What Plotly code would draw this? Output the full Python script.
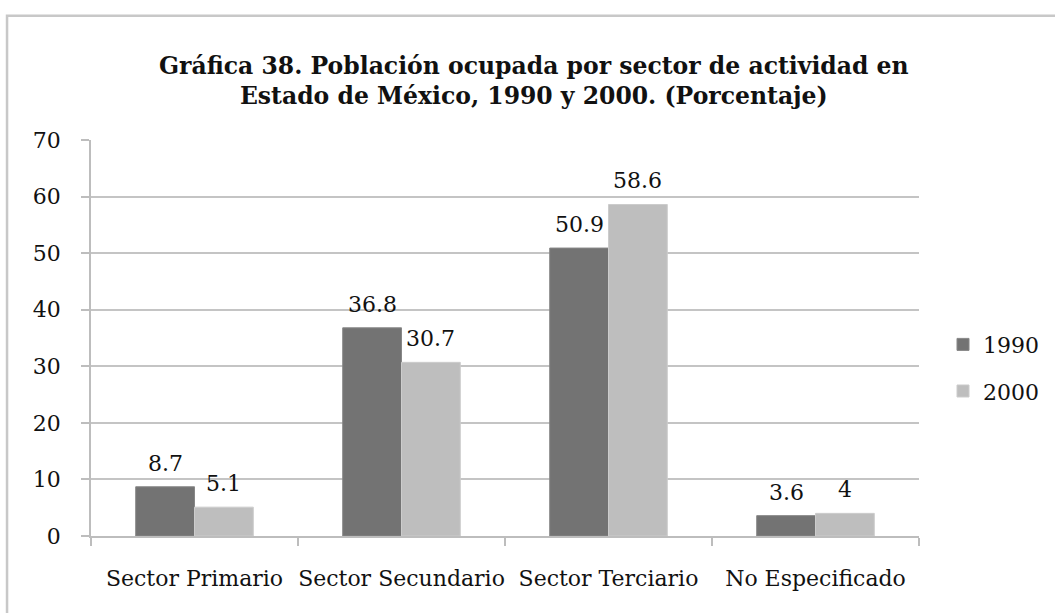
import plotly.graph_objects as go

# Población ocupada por sector de actividad (%)
sectores = ["Sector Primario", "Sector Secundario", "Sector Terciario", "No Especificado"]
anios = ["1990", "2000"]
valores_1990 = [8.7, 36.8, 50.9, 3.6]
valores_2000 = [5.1, 30.7, 58.6, 4]
colores = ["#737373", "#bebebe"]
bordes = ["#878787", "#cccccc"]

FUENTE = "DejaVu Serif"
series = [valores_1990, valores_2000]

fig = go.Figure()
for i, (anio, vals) in enumerate(zip(anios, series)):
    fig.add_trace(go.Bar(
        x=sectores, y=vals, name=anio,
        legendgroup=anio,
        marker=dict(color=colores[i], line=dict(color=bordes[i], width=1)),
        hoverinfo="x+y+name",
    ))

# Etiquetas de valor sobre cada barra
half = 29.4  # distancia en px del centro de la categoría al centro de cada barra
for i, vals in enumerate(series):
    for sec, v in zip(sectores, vals):
        fig.add_annotation(
            x=sec, y=v, text=f"{v:g}", showarrow=False,
            xshift=(-half if i == 0 else half), yshift=9, yanchor="bottom",
            font=dict(family=FUENTE, size=22, color="#111111"),
        )

# Marco exterior del gráfico
fig.add_shape(type="rect", xref="paper", yref="paper",
              x0=-0.1014, x1=1.25, y0=-0.35, y1=1.314,
              line=dict(color="#c8c8c8", width=2.5), fillcolor="rgba(0,0,0,0)",
              layer="below")

fig.update_layout(
    width=1055, height=613,
    margin=dict(l=91, r=136, t=139.5, b=77, autoexpand=False),
    paper_bgcolor="white", plot_bgcolor="white",
    barmode="group", bargap=0.432, bargroupgap=0,
    title=dict(
        text="Gráfica 38. Población ocupada por sector de actividad en<br>Estado de México, 1990 y 2000. (Porcentaje)",
        x=0.506, xref="container", xanchor="center",
        y=0.880, yref="container", yanchor="top",
        font=dict(family=FUENTE, size=23.5, color="#111111", weight="bold"),
        automargin=False,
    ),
    font=dict(family=FUENTE, size=22, color="#111111"),
    showlegend=True,
    legend=dict(
        x=1.029, xanchor="left", y=0.424, yanchor="middle",
        traceorder="grouped", tracegroupgap=15,
        font=dict(family=FUENTE, size=22, color="#111111"),
        bgcolor="rgba(0,0,0,0)",
    ),
    xaxis=dict(
        type="category", showline=True, linecolor="#bdbdbd", linewidth=1.5,
        ticks="outside", tickson="boundaries", ticklen=8, tickcolor="#bdbdbd",
        tickwidth=1.5, showgrid=False, ticklabelstandoff=22, tickangle=0,
        automargin=False,
        tickfont=dict(family=FUENTE, size=22, color="#111111"),
    ),
    yaxis=dict(
        range=[0, 70], dtick=10, showline=True, linecolor="#bdbdbd", linewidth=1.5,
        ticks="outside", ticklen=8, tickcolor="#bdbdbd", tickwidth=1.5,
        showgrid=True, gridcolor="#c4c4c4", gridwidth=1.5, zeroline=False,
        ticklabelstandoff=16, automargin=False,
        tickfont=dict(family=FUENTE, size=22, color="#111111"),
    ),
)

fig.write_html("out.html")
